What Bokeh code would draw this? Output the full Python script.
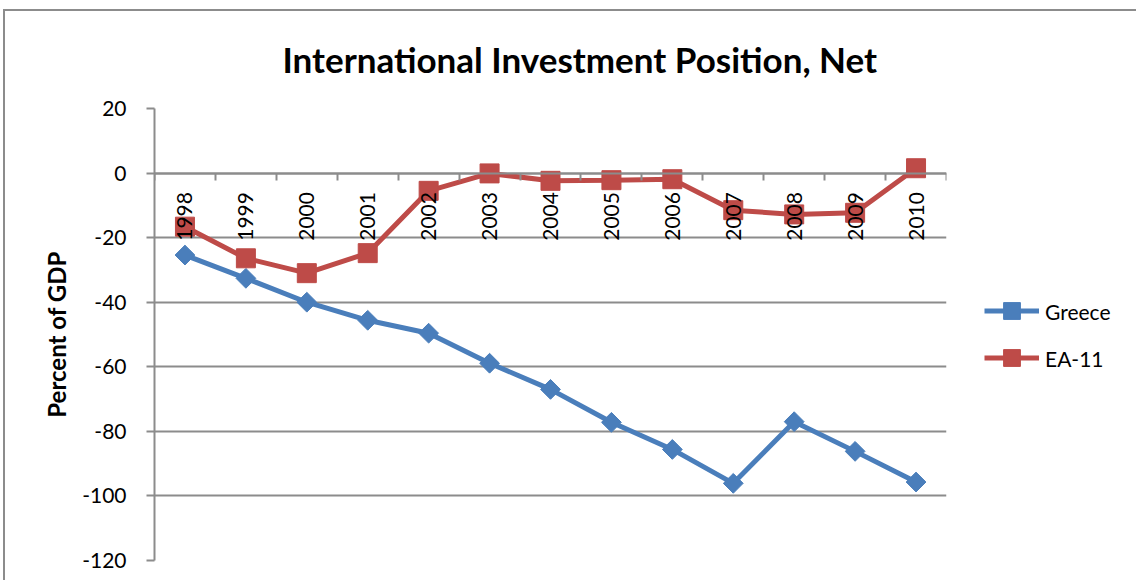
from bokeh.plotting import figure
from bokeh.models import (Range1d, LinearAxis, FixedTicker, Legend, LegendItem, Title)
from bokeh.embed import file_html
from bokeh.resources import INLINE
import math

years = [1998, 1999, 2000, 2001, 2002, 2003, 2004, 2005, 2006, 2007, 2008, 2009, 2010]
year_labels = [str(y) for y in years]
greece = [-25.4, -32.6, -40.0, -45.6, -49.6, -58.9, -67.0, -77.2, -85.6, -96.1, -77.0, -86.2, -95.7]
ea11 = [-16.6, -26.4, -31.0, -24.8, -5.5, -0.1, -2.4, -2.2, -1.9, -11.5, -12.8, -12.3, 1.5]
y_ticks = [-120, -100, -80, -60, -40, -20, 0, 20]
title_text = "International Investment Position, Net"

BLUE = "#4A7EBB"
RED = "#BE4B48"
GRID = "#8C8C8C"
FONT = "Lato"

p = figure(frame_width=792, frame_height=452,
           x_range=Range1d(years[0] - 0.5, years[-1] + 0.5),
           y_range=Range1d(y_ticks[0], y_ticks[-1]),
           output_backend="svg", toolbar_location=None,
           min_border_left=149, min_border_right=190,
           min_border_top=97, min_border_bottom=20,
           title=None)
p.outline_line_color = None
p.background_fill_color = "white"
p.border_fill_color = "white"
p.styles = {"margin-left": "3px", "margin-top": "9px",
            "border-left": "2px solid #8C8C8C", "border-top": "2px solid #8C8C8C"}

t = Title(text=title_text, align="left", vertical_align="top",
          text_font=FONT, text_font_size="35px", text_font_style="bold",
          text_color="black", offset=128, standoff=53)
p.add_layout(t, "above")

# y axis
p.yaxis.ticker = FixedTicker(ticks=y_ticks)
p.yaxis.major_label_overrides = {v: str(v) for v in y_ticks}
p.yaxis.axis_line_color = GRID
p.yaxis.axis_line_width = 2
p.yaxis.major_tick_line_color = GRID
p.yaxis.major_tick_line_width = 2
p.yaxis.major_tick_out = 8
p.yaxis.major_tick_in = 0
p.yaxis.minor_tick_line_color = None
p.yaxis.major_label_text_font = FONT
p.yaxis.major_label_text_font_size = "21px"
p.yaxis.major_label_text_color = "black"
p.yaxis.major_label_standoff = 20
p.yaxis.axis_label = "Percent of GDP"
p.yaxis.axis_label_text_font = FONT
p.yaxis.axis_label_text_font_size = "24px"
p.yaxis.axis_label_text_font_style = "bold"
p.yaxis.axis_label_text_color = "black"
p.yaxis.axis_label_standoff = 8

p.ygrid.ticker = FixedTicker(ticks=y_ticks)
p.ygrid.grid_line_color = GRID
p.ygrid.grid_line_width = 2
p.xgrid.visible = False

# x axis with labels at y = 0
xa = p.xaxis[0]
xa.fixed_location = 0
xa.ticker = FixedTicker(ticks=years)
xa.major_label_overrides = {y: lab for y, lab in zip(years, year_labels)}
xa.major_label_orientation = math.pi / 2
xa.major_label_text_font = FONT
xa.major_label_text_font_size = "21px"
xa.major_label_text_color = "black"
xa.major_label_standoff = 13
xa.major_tick_line_color = None
xa.minor_tick_line_color = None
xa.axis_line_color = GRID
xa.axis_line_width = 2

# boundary tick marks
bounds = [y - 0.5 for y in years] + [years[-1] + 0.5]
xb = LinearAxis(fixed_location=0, ticker=FixedTicker(ticks=bounds),
                major_label_text_alpha=0, major_label_text_font_size="1px",
                major_tick_line_color=GRID, major_tick_line_width=2,
                major_tick_out=7, major_tick_in=0,
                minor_tick_line_color=None, axis_line_color=None)
p.add_layout(xb, "below")

gl = p.line(years, greece, line_color=BLUE, line_width=5)
gs = p.scatter(years, greece, marker="square", angle=math.pi / 4, size=14,
               fill_color=BLUE, line_color=BLUE)
el = p.line(years, ea11, line_color=RED, line_width=5)
es = p.scatter(years, ea11, marker="square", size=19,
               fill_color=RED, line_color=RED)

legend = Legend(items=[LegendItem(label="Greece", renderers=[gl, gs]),
                       LegendItem(label="EA-11", renderers=[el, es])],
                location="center_left", orientation="vertical",
                margin=38, padding=10, spacing=5,
                glyph_width=55, glyph_height=42, label_standoff=6,
                label_text_font=FONT, label_text_font_size="21px",
                label_text_color="black", border_line_color=None,
                background_fill_alpha=0)
p.add_layout(legend, "right")

open("out.html", "w").write(file_html(p, INLINE))
